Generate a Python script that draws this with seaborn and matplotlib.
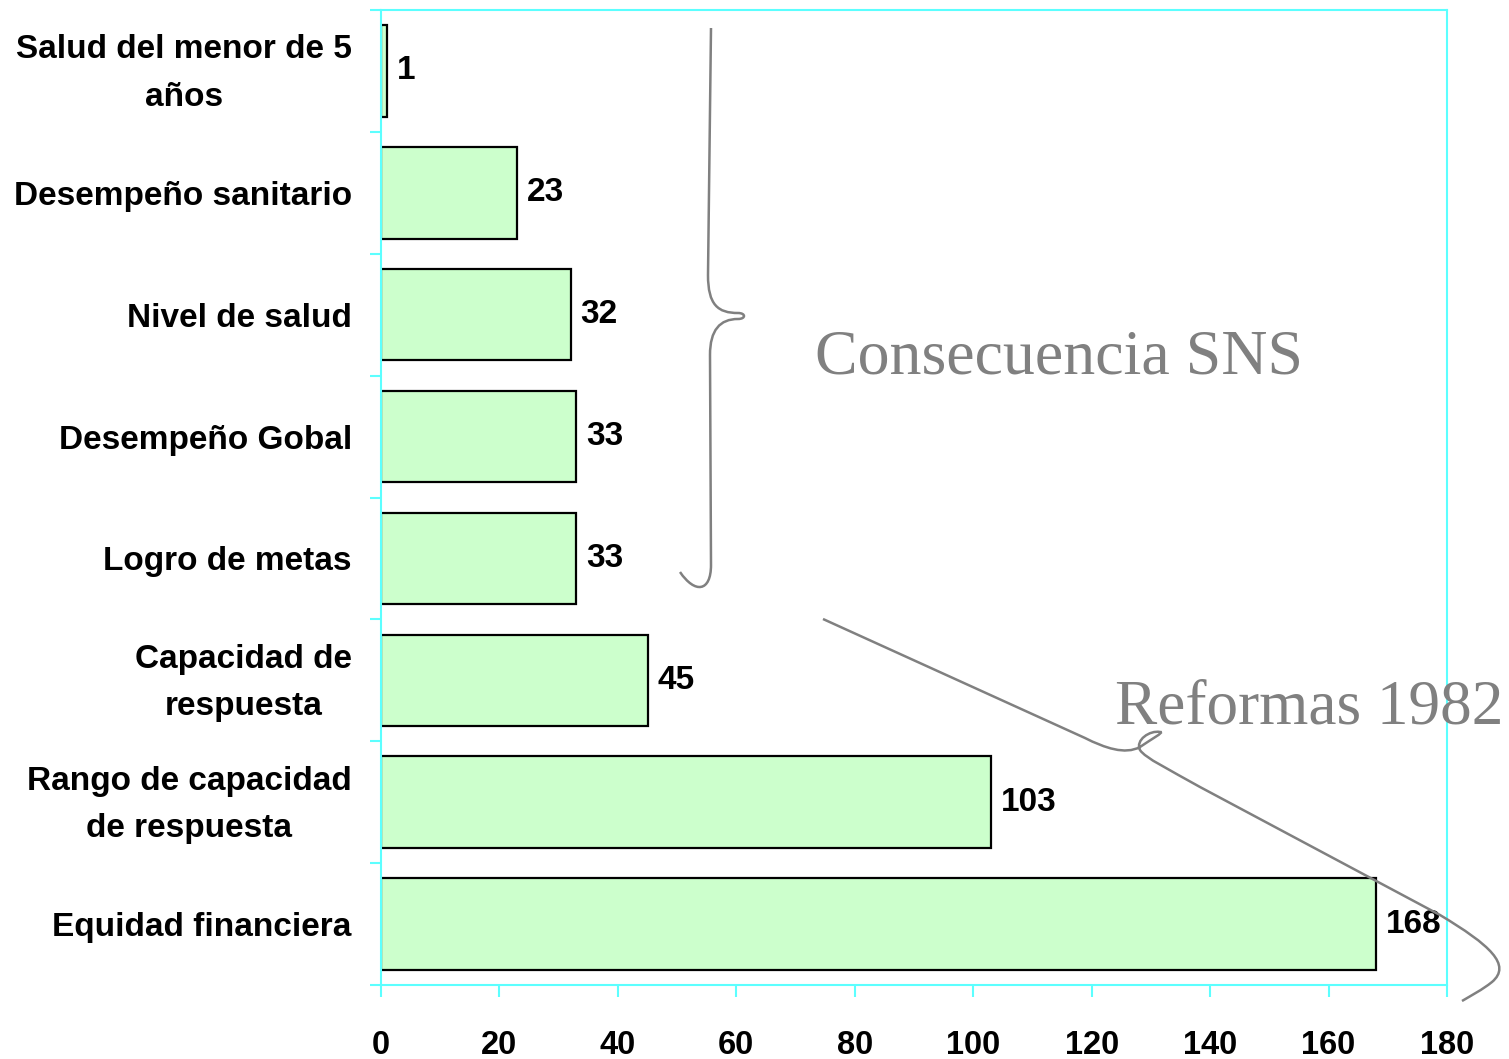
import matplotlib
matplotlib.use("Agg")
import matplotlib.pyplot as plt
import matplotlib.transforms as mtransforms
import seaborn as sns
import pandas as pd
import numpy as np
from matplotlib.path import Path
from matplotlib.patches import PathPatch
from matplotlib.ticker import FixedLocator

categories = ["Salud del menor de 5\naños", "Desempeño sanitario", "Nivel de salud",
              "Desempeño Gobal", "Logro de metas", "Capacidad de\nrespuesta",
              "Rango de capacidad\nde respuesta", "Equidad financiera"]
values = [1, 23, 32, 33, 33, 45, 103, 168]
x_ticks = [0, 20, 40, 60, 80, 100, 120, 140, 160, 180]

W, H = 1509, 1059
sns.set_style("white")
plt.rcParams['font.family'] = ['Liberation Sans', 'DejaVu Sans']

CYAN = '#5CFFFF'
GRAY = '#808080'

fig = plt.figure(figsize=(W / 100, H / 100), dpi=100)
ax = fig.add_axes([381 / W, 1 - 985 / H, (1447 - 381) / W, (985 - 10) / H])

df = pd.DataFrame({"cat": categories, "val": values})
sns.barplot(data=df, x="val", y="cat", orient="h", color="#CCFFCC", saturation=1,
            edgecolor="black", linewidth=1.6, width=0.75, ax=ax)

ax.set_xlim(0, 180)
ax.set_ylim(len(categories) - 0.5, -0.5)
ax.set_xlabel("")
ax.set_ylabel("")

for sp in ax.spines.values():
    sp.set_color(CYAN)
    sp.set_linewidth(1.5)
    sp.set_visible(True)

ax.set_xticks(x_ticks)
ax.set_xticklabels([str(t) for t in x_ticks], fontsize=23.5, fontweight='bold',
                   color='black')
ax.tick_params(axis='x', which='major', direction='out', length=8.6, width=1.5,
               color=CYAN, pad=24, bottom=True)

ax.set_yticks(range(len(categories)))
ax.set_yticklabels(categories, fontsize=24, fontweight='bold', linespacing=1.68,
                   color='black')
ax.yaxis.set_minor_locator(FixedLocator(np.arange(-0.5, len(categories), 1.0)))
ax.tick_params(axis='y', which='major', length=0, pad=21, left=True)
ax.tick_params(axis='y', which='minor', direction='out', length=8, width=1.5,
               color=CYAN, left=True)
shift_up = mtransforms.ScaledTranslation(0, 9 / 100, fig.dpi_scale_trans)
for lab in ax.get_yticklabels():
    lab.set_multialignment('center')
    if "\n" in lab.get_text():
        lab.set_transform(lab.get_transform() + shift_up)

for i, v in enumerate(values):
    ax.annotate(str(v), xy=(v, i), xytext=(7, 0), textcoords='offset points',
                ha='left', va='center', fontsize=24, fontweight='bold', color='black')

# decorative annotations (pixel coords of the figure)
def P(x, y):
    return (x / W, 1 - y / H)

def draw_path(segs):
    verts, codes = [], []
    for kind, pts in segs:
        if kind == 'M':
            verts.append(P(*pts[0])); codes.append(Path.MOVETO)
        elif kind == 'L':
            verts.append(P(*pts[0])); codes.append(Path.LINETO)
        elif kind == 'C':
            for p in pts:
                verts.append(P(*p)); codes.append(Path.CURVE4)
    patch = PathPatch(Path(verts, codes), facecolor='none', edgecolor=GRAY, lw=1.8,
                      transform=fig.transFigure, clip_on=False)
    fig.add_artist(patch)

brace = [('M', [(711, 28)]), ('L', [(708, 275)]),
         ('C', [(708, 305), (718, 313), (738, 313)]),
         ('C', [(746, 313), (746, 319), (738, 319)]),
         ('C', [(720, 319), (710, 330), (710, 355)]),
         ('L', [(711, 565)]),
         ('C', [(711, 592), (695, 594), (680, 572)])]
draw_path(brace)

arrow = [('M', [(823, 619)]), ('L', [(1085, 738)]),
         ('C', [(1105, 748), (1125, 755), (1140, 747)]),
         ('C', [(1150, 740), (1165, 732), (1160, 732)]),
         ('C', [(1150, 730), (1135, 740), (1140, 750)]),
         ('C', [(1145, 758), (1170, 770), (1200, 787)]),
         ('L', [(1440, 915)]),
         ('C', [(1490, 945), (1512, 965), (1492, 982)]),
         ('C', [(1482, 990), (1472, 995), (1462, 1001)])]
draw_path(arrow)

fig.text(815 / W, 1 - 373 / H, "Consecuencia SNS", fontsize=46, color=GRAY,
         family=['Liberation Serif', 'DejaVu Serif'], ha='left', va='baseline')
fig.text(1115 / W, 1 - 723 / H, "Reformas 1982", fontsize=45.5, color=GRAY,
         family=['Liberation Serif', 'DejaVu Serif'], ha='left', va='baseline')

fig.savefig("out.png", dpi=100, facecolor='white')
